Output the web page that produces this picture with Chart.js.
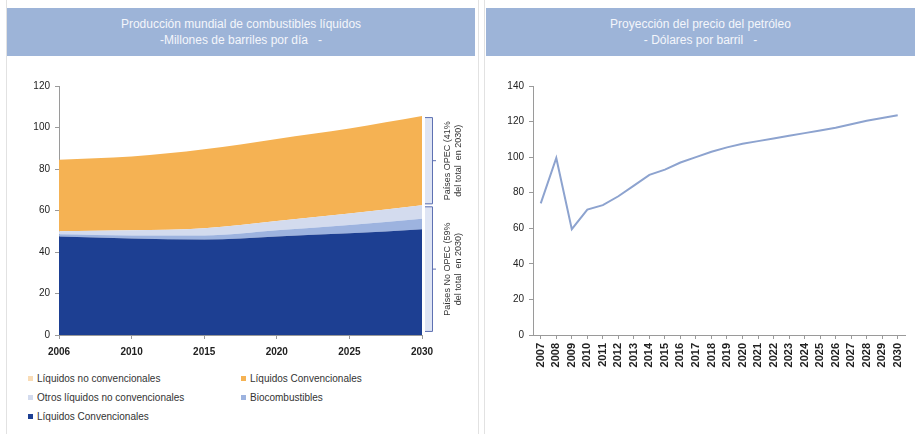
<!DOCTYPE html>
<html>
<head>
<meta charset="utf-8">
<script src="https://cdn.jsdelivr.net/npm/chart.js@4"></script>
<style>
  body { margin: 0; width: 915px; height: 434px; background: #fff; position: relative; overflow: hidden; font-family: "Liberation Sans", Arial, sans-serif; }
  .panel { position: absolute; top: 0; height: 434px; }
  .hdr { position: absolute; top: 8px; height: 48px; background: #9db4d8; color: #f4f6fb; font-size: 12px; text-align: center; line-height: 16px; padding-top: 8px; box-sizing: border-box; }
  canvas { position: absolute; }
  #legend { position: absolute; left: 28px; top: 373px; width: 440px; font-size: 10px; color: #333; }
  #legend div { position: absolute; white-space: nowrap; }
  #legend span { display: inline-block; width: 5px; height: 5px; margin-right: 4px; vertical-align: 1px; }
</style>
</head>
<body>
<div class="panel" style="left:6px; width:471px; border-left:1px solid #e2e2e2; border-right:1px solid #e2e2e2;"></div>
<div class="panel" style="left:484px; width:431px; border-left:1px solid #e2e2e2;"></div>

<div class="hdr" style="left:7px; width:468px;">Producción mundial de combustibles líquidos<br>-Millones de barriles por día &nbsp; -</div>
<div class="hdr" style="left:486px; width:429px;">Proyección del precio del petróleo<br>- Dólares por barril &nbsp; -</div>

<canvas id="prodChart" style="left:7px; top:58px;" width="468" height="306"></canvas>
<div id="legend"></div>
<canvas id="priceChart" style="left:486px; top:58px;" width="429" height="330"></canvas>

<script>
// left chart: world liquid fuel production, million barrels per day
const prodYears = ['2006', '2010', '2015', '2020', '2025', '2030'];
const convNoOpep = [47.5, 46.5, 46, 47.5, 49, 51];
const biofuels = [1, 1.5, 2, 3, 4, 5];
const otherUnconv = [1.5, 2.5, 3.5, 4.5, 5.5, 6.5];
const convOpep = [34.5, 35.5, 38, 39.5, 41, 43];
const unconvOpep = [0, 0, 0, 0, 0, 0];
const prodTicks = [0, 20, 40, 60, 80, 100, 120];

// right chart: oil price projection, dollars per barrel
const priceYears = ['2007', '2008', '2009', '2010', '2011', '2012', '2013', '2014', '2015', '2016', '2017', '2018',
  '2019', '2020', '2021', '2022', '2023', '2024', '2025', '2026', '2027', '2028', '2029', '2030'];
const price = [74, 99.5, 59.5, 70.5, 73, 78, 84, 90, 93, 97, 100, 103,
  105.5, 107.5, 109, 110.5, 112, 113.5, 115, 116.5, 118.5, 120.5, 122, 123.5];
const priceTicks = [0, 20, 40, 60, 80, 100, 120, 140];

const prodSeries = [
  { label: 'Líquidos Convencionales', data: convNoOpep, color: '#1d3f92' },
  { label: 'Biocombustibles', data: biofuels, color: '#9db3df' },
  { label: 'Otros líquidos no convencionales', data: otherUnconv, color: '#d3dbee' },
  { label: 'Líquidos Convencionales', data: convOpep, color: '#f5b253' },
  { label: 'Líquidos no convencionales', data: unconvOpep, color: '#f9dcb6' },
];

// legend order as in the picture (two columns)
const legendOrder = [4, 3, 2, 1, 0];
const legendEl = document.getElementById('legend');
legendOrder.forEach((idx, i) => {
  const s = prodSeries[idx];
  const d = document.createElement('div');
  d.style.left = (i % 2 === 0 ? 0 : 213) + 'px';
  d.style.top = Math.floor(i / 2) * 19 + 'px';
  d.innerHTML = '<span style="background:' + s.color + '"></span>' + s.label;
  legendEl.appendChild(d);
});

const axisColor = '#9a9a9a';
const tickFont = { family: 'Liberation Sans', size: 10 };

// brackets with OPEC / non OPEC notes to the right of the stacked area
const bracketPlugin = {
  id: 'brackets',
  afterDraw(chart) {
    const ctx = chart.ctx;
    const y = chart.scales.y;
    const right = chart.chartArea.right;
    const last = prodYears.length - 1;
    const lowTop = convNoOpep[last] + biofuels[last] + otherUnconv[last];
    const total = lowTop + convOpep[last] + unconvOpep[last];
    const groups = [
      { from: 1, to: lowTop, lines: ['Países No OPEC (59%', 'del total  en 2030)'] },
      { from: lowTop, to: total, lines: ['Países OPEC (41%', 'del total  en 2030)'] },
    ];
    ctx.save();
    groups.forEach(g => {
      const top = y.getPixelForValue(g.to) + 1;
      const bot = y.getPixelForValue(g.from) - 1;
      const mid = (top + bot) / 2;
      ctx.fillStyle = '#dfe5f4';
      ctx.fillRect(right + 3, top, 7, bot - top);
      ctx.strokeStyle = '#5d70b2';
      ctx.lineWidth = 1;
      ctx.beginPath();
      ctx.moveTo(right + 3, top + 0.5);
      ctx.lineTo(right + 10.5, top + 0.5);
      ctx.lineTo(right + 10.5, bot - 0.5);
      ctx.lineTo(right + 3, bot - 0.5);
      ctx.moveTo(right + 10.5, mid);
      ctx.lineTo(right + 14, mid);
      ctx.stroke();
      ctx.fillStyle = '#333';
      ctx.font = '9px "Liberation Sans"';
      ctx.textAlign = 'center';
      ctx.textBaseline = 'middle';
      g.lines.forEach((t, i) => {
        ctx.save();
        ctx.translate(right + 26 + i * 11, mid);
        ctx.rotate(-Math.PI / 2);
        ctx.fillText(t, 0, 0);
        ctx.restore();
      });
    });
    ctx.restore();
  }
};

new Chart(document.getElementById('prodChart'), {
  type: 'line',
  data: {
    labels: prodYears,
    datasets: prodSeries.map((s, i) => ({
      label: s.label,
      data: s.data,
      backgroundColor: s.color,
      borderColor: s.color,
      borderWidth: 0,
      pointRadius: 0,
      cubicInterpolationMode: 'monotone',
      fill: i === 0 ? 'origin' : '-1',
    })),
  },
  options: {
    responsive: false,
    animation: false,
    layout: { padding: { top: 28, right: 53, left: 0, bottom: 0 } },
    plugins: { legend: { display: false }, tooltip: { enabled: false } },
    scales: {
      x: {
        offset: false,
        grid: { drawOnChartArea: false, tickLength: 4, color: axisColor },
        border: { color: axisColor },
        ticks: { font: { ...tickFont, weight: 'bold' }, color: '#222', maxRotation: 0, padding: 7 },
        afterFit: (scale) => { scale.height = 29; },
      },
      y: {
        stacked: true,
        min: 0,
        max: 120,
        afterBuildTicks: (scale) => { scale.ticks = prodTicks.map(v => ({ value: v })); },
        grid: { drawOnChartArea: false, tickLength: 4, color: axisColor },
        border: { color: axisColor },
        ticks: { font: tickFont, color: '#222', padding: 5 },
        afterFit: (scale) => { scale.width = 52; },
      },
    },
  },
  plugins: [bracketPlugin],
});

new Chart(document.getElementById('priceChart'), {
  type: 'line',
  data: {
    labels: priceYears,
    datasets: [{
      label: 'Precio',
      data: price,
      borderColor: '#8da3cf',
      borderWidth: 2,
      pointRadius: 0,
      fill: false,
      tension: 0,
    }],
  },
  options: {
    responsive: false,
    animation: false,
    layout: { padding: { top: 28, right: 4, left: 0, bottom: 0 } },
    plugins: { legend: { display: false }, tooltip: { enabled: false } },
    scales: {
      x: {
        offset: true,
        grid: { drawOnChartArea: false, tickLength: 4, color: axisColor, offset: false },
        border: { color: axisColor },
        ticks: { font: { ...tickFont, size: 11, weight: 'bold' }, color: '#222', minRotation: 90, maxRotation: 90, autoSkip: false, padding: 4 },
        afterFit: (scale) => { scale.height = 53; },
      },
      y: {
        min: 0,
        max: 140,
        afterBuildTicks: (scale) => { scale.ticks = priceTicks.map(v => ({ value: v })); },
        grid: { drawOnChartArea: false, tickLength: 4, color: axisColor },
        border: { color: axisColor },
        ticks: { font: tickFont, color: '#222', padding: 5 },
        afterFit: (scale) => { scale.width = 47; },
      },
    },
  },
});
</script>
</body>
</html>
